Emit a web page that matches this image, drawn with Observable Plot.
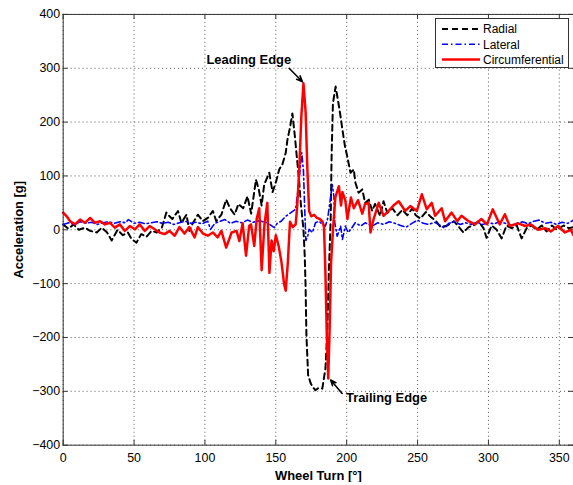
<!DOCTYPE html>
<html><head><meta charset="utf-8">
<script src="https://cdn.jsdelivr.net/npm/d3@7"></script>
<script src="https://cdn.jsdelivr.net/npm/@observablehq/plot@0.6"></script>
<style>
html,body{margin:0;padding:0;background:#fff;overflow:hidden;}
#wrap{position:relative;width:573px;height:485px;overflow:hidden;}
</style></head><body><div id="wrap"></div>
<script>
// ---- data ----
const xTicks = [0, 50, 100, 150, 200, 250, 300, 350];
const yTicks = [-400, -300, -200, -100, 0, 100, 200, 300, 400];
const seriesNames = ["Radial", "Lateral", "Circumferential"];

const radialDeg = [0,3.7,7.3,11,15.4,19,23.7,27.3,31,34.2,38.4,42,45.6,48.2,51.7,55,58.8,62.4,66,69.6,72.8,75,77,81,83.4,87,89,91.6,95,98.6,102,105.6,108,111.6,115,117.7,121,123.6,127,130,132.6,136,138,140,141.8,145.4,147.7,150,152.4,154.7,157,158.2,160,161.7,163.4,164.8,166.4,167.6,169.5,170.4,171,171.6,172.8,174.6,176,178,180,182.8,185,186.3,187.5,188.7,189.4,190.3,192.2,194.2,195.7,197,198.8,200.4,202.7,205,206.2,208.4,211,213,215.6,218,220,223.6,226,228.7,232.2,235.8,239.3,242.8,246.3,248.7,252,255.8,259.3,262.8,266.3,271,275.7,279.2,282.3,286,289.5,293,296.5,298.7,302.3,305.8,309.3,312.8,316.3,320,323.4,327,330.5,334,337.6,341,344.8,348.3,353,356.7,360];
const radialVal = [10,2,10,0,4,-2,-5,4,-5,-20,0,-10,-5,-17,-24,-8,-13,-2,-5,4,32,25,20,35,13,28,-2,13,28,16,22,35,16,28,56,40,28,48,40,62,30,93,75,45,84,106,70,88,112,122,143,167,190,216,175,136,93,50,1,-48,-104,-196,-270,-285,-292,-298,-294,-295,-258,-190,-73,19,143,235,266,235,210,186,155,136,106,112,87,69,75,50,56,35,48,26,53,31,40,27,37,27,40,27,21,33,24,17,5,8,16,5,-5,5,8,16,3,-15,8,0,-16,8,3,8,-16,3,8,0,8,-3,8,0,8,3,5];

const lateralDeg = [0,4,8,12,16,20,24,28,32,36,40,44,46,50,54,58,62,66,70,74,78,82,86,90,94,98,102,104,107,110,114,118,122,126,130,134,138,141,144,149,151,153.8,157,160.6,164,165.5,166.4,168.3,169.5,170.4,171.2,172.5,173.5,175.8,178,180.5,183,185,186.5,187.5,189.8,191,191.6,193.3,195.7,197,199,201,203,206,210,213,218,222,226,230,234,238,242,246,250,254,258,262,266,269,272,276,280,284,288,292,296,300,304,308,312,316,320,324,328,332,336,340,344,348,352,356,360];
const lateralVal = [10,13,10,15,12,14,10,13,15,12,15,13,19,12,14,11,13,15,12,14,10,13,16,12,14,11,16,1,12,15,19,12,16,13,18,14,17,15,13,4,12,16,25,32,38,70,93,143,110,38,-20,-12,1,-5,13,16,10,7,20,38,84,62,13,-12,7,-18,7,-5,1,13,7,13,7,13,10,15,12,8,5,12,18,12,10,14,8,3,12,15,10,13,10,14,10,13,11,15,12,8,12,15,11,16,18,12,14,10,14,12,18];

const circDeg = [0,2.5,4.9,8.4,11.9,15.4,19,22.5,26,29.5,33,36.5,40,43.5,47,50.6,54,57.6,61,64.6,68,71.6,75,78.7,82,85.6,89,92.7,95,98.6,102,105.6,109,111.6,115,118.8,122.3,124.3,126.6,129,131.2,132.5,134.8,136.5,138.3,140,142,144,145.5,147,148.5,150,152,154,155.8,157,158.5,160,162,164,165,166.5,168,169.5,171,172.3,173.5,175,177,179,181,183,184,185,186,187,188,189,190.5,192,194.5,196,197,199,200.5,203,205,208,211,213,215.5,216.8,219,222.6,226,229.6,233,236.7,241.3,244.9,249.5,253,256.5,260,262.4,267,269.4,274,278,281,286,290.5,295,299,303,308,311.6,315,321,326,330,335,340,344,349,354,358,360];
const circVal = [32,25,16,10,19,13,22,13,16,10,13,4,10,-2,7,1,10,-2,7,1,-5,-8,-2,-11,5,-7,5,-14,5,-7,-11,-5,-14,-2,-33,-5,-2,-21,12,-48,7,10,-30,20,40,-75,10,50,-80,-20,-40,-10,-30,-60,-100,-113,-60,15,5,10,40,110,210,272,220,110,35,25,28,22,20,15,5,-80,-200,-276,-180,-60,7,60,81,45,70,55,20,60,40,55,30,48,50,-5,20,50,26,35,45,53,35,44,35,66,38,50,26,40,16,32,16,26,16,10,20,10,38,10,29,7,12,7,10,0,3,-3,7,-5,0,-10];

// annotations (data units)
const annLabels = ["Leading Edge", "Trailing Edge"];
const annTextX = [160.8, 199.5];
const annTextY = [315, -313];
const arrowFromX = [159.4, 196.8];
const arrowFromY = [300, -304];
const arrowToX = [168.8, 188.7];
const arrowToY = [275, -279];

// ---- build tables ----
const mk = (xs, ys, name) => xs.map((x, i) => ({x, y: ys[i], series: name}));
const radial = mk(radialDeg, radialVal, seriesNames[0]);
const lateral = mk(lateralDeg, lateralVal, seriesNames[1]);
const circ = mk(circDeg, circVal, seriesNames[2]);
const ann = annLabels.map((t, i) => ({t, x: annTextX[i], y: annTextY[i],
  x1: arrowFromX[i], y1: arrowFromY[i], x2: arrowToX[i], y2: arrowToY[i]}));

const W = 576, H = 485, mL = 63, mR = 0, mT = 14, mB = 38;
const pxX = 360 / (W - mL - mR), pxY = 800 / (H - mT - mB);
const tick = 5;
const font = "Liberation Sans, Arial, Helvetica, sans-serif";

const chart = Plot.plot({
  width: W, height: H,
  marginLeft: mL, marginRight: mR, marginTop: mT, marginBottom: mB,
  style: {fontFamily: font, fontSize: "12.5px", background: "#fff", color: "#000"},
  x: {domain: [0, 360], ticks: xTicks},
  y: {domain: [-400, 400], ticks: yTicks},
  marks: [
    Plot.ruleX(xTicks, {stroke: "#555", strokeWidth: 1, strokeDasharray: "1,3"}),
    Plot.ruleY(yTicks, {stroke: "#555", strokeWidth: 1, strokeDasharray: "1,3"}),
    Plot.ruleX(xTicks, {x: d => d, y1: -400, y2: -400 + tick * pxY, stroke: "#333"}),
    Plot.ruleX(xTicks, {x: d => d, y1: 400, y2: 400 - tick * pxY, stroke: "#333"}),
    Plot.ruleY(yTicks, {y: d => d, x1: 0, x2: tick * pxX, stroke: "#333"}),
    Plot.ruleY(yTicks, {y: d => d, x1: 360, x2: 360 - tick * pxX, stroke: "#333"}),
    Plot.line(radial, {x: "x", y: "y", stroke: "#000", strokeWidth: 2, strokeDasharray: "6,4"}),
    Plot.line(lateral, {x: "x", y: "y", stroke: "#0000ff", strokeWidth: 1.6, strokeDasharray: "6,3,1.5,3"}),
    Plot.line(circ, {x: "x", y: "y", stroke: "#ff0000", strokeWidth: 2.5}),
    Plot.frame({stroke: "#333", strokeWidth: 1}),
    Plot.axisX(xTicks, {tickSize: 0, tickPadding: 8, label: null, fontSize: 12.5}),
    Plot.axisY(yTicks, {tickSize: 0, tickPadding: 3, label: null, fontSize: 12.5}),
    Plot.text(["Wheel Turn [°]"], {frameAnchor: "bottom", lineAnchor: "middle", dy: 31, fontWeight: "bold", fontSize: 13}),
    Plot.text(["Acceleration [g]"], {frameAnchor: "left", lineAnchor: "middle", textAnchor: "middle", dx: -45, rotate: -90, fontWeight: "bold", fontSize: 13}),
    Plot.arrow(ann, {x1: "x1", y1: "y1", x2: "x2", y2: "y2", stroke: "#000", strokeWidth: 1.6, headLength: 12, headAngle: 45}),
    Plot.text(ann.slice(0, 1), {x: "x", y: "y", text: "t", textAnchor: "end", fontWeight: "bold", fontSize: 13}),
    Plot.text(ann.slice(1, 2), {x: "x", y: "y", text: "t", textAnchor: "start", fontWeight: "bold", fontSize: 13})
  ]
});
document.getElementById("wrap").appendChild(chart);

// legend inside the plot (SVG overlay)
const legStyles = [
  {stroke: "#000", w: 2, dash: "6,4"},
  {stroke: "#0000ff", w: 1.6, dash: "6,3,1.5,3"},
  {stroke: "#ff0000", w: 2.5, dash: null}
];
const ns = "http://www.w3.org/2000/svg";
const leg = document.createElementNS(ns, "svg");
leg.setAttribute("width", 134); leg.setAttribute("height", 50);
leg.style.position = "absolute"; leg.style.left = "435px"; leg.style.top = "18px";
const box = document.createElementNS(ns, "rect");
box.setAttribute("x", 0.5); box.setAttribute("y", 0.5); box.setAttribute("width", 133); box.setAttribute("height", 49);
box.setAttribute("fill", "#fff"); box.setAttribute("stroke", "#333");
leg.appendChild(box);
seriesNames.forEach((n, i) => {
  const cy = 11 + i * 15.3;
  const ln = document.createElementNS(ns, "line");
  ln.setAttribute("x1", 7); ln.setAttribute("x2", 45); ln.setAttribute("y1", cy); ln.setAttribute("y2", cy);
  ln.setAttribute("stroke", legStyles[i].stroke); ln.setAttribute("stroke-width", legStyles[i].w);
  if (legStyles[i].dash) ln.setAttribute("stroke-dasharray", legStyles[i].dash);
  leg.appendChild(ln);
  const tx = document.createElementNS(ns, "text");
  tx.setAttribute("x", 48); tx.setAttribute("y", cy); tx.setAttribute("dy", "0.35em");
  tx.setAttribute("font-family", font); tx.setAttribute("font-size", "12px");
  tx.textContent = n;
  leg.appendChild(tx);
});
document.getElementById("wrap").appendChild(leg);
</script></body></html>
